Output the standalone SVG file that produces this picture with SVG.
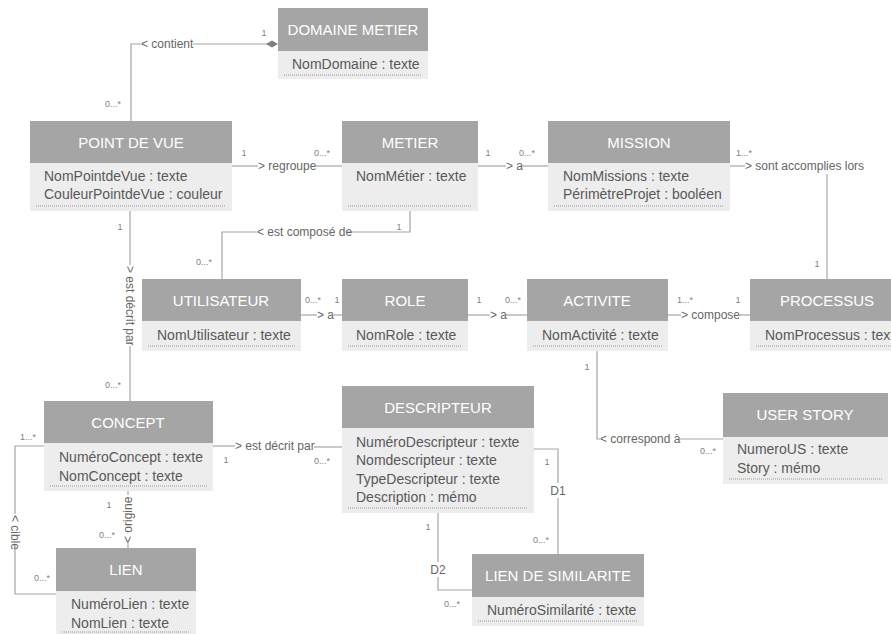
<svg xmlns="http://www.w3.org/2000/svg" width="891" height="634" viewBox="0 0 891 634">
<style>
.hd{fill:#a5a5a5}
.bd{fill:#ededed}
.tt{font-family:"Liberation Sans",Arial,sans-serif;font-size:15px;fill:#ffffff;text-anchor:middle}
.at{font-family:"Liberation Sans",Arial,sans-serif;font-size:14px;fill:#595959}
.dl{stroke:#9a9a9a;stroke-width:1;stroke-dasharray:1 1;fill:none}
.cn{stroke:#a6a6a6;stroke-width:1.2;fill:none}
.lb{font-family:"Liberation Sans",Arial,sans-serif;font-size:12px;fill:#666666}
.ml{font-family:"Liberation Sans",Arial,sans-serif;font-size:9px;fill:#7f7f7f;text-anchor:middle}
</style>
<rect width="891" height="634" fill="#ffffff"/>
<g id="connectors">
  <!-- contient -->
  <path class="cn" d="M268,44 H193"/>
  <polygon points="266,44 272,40.5 278,44 272,47.5" fill="#7f7f7f"/>
  <text class="lb" x="141" y="48">&lt; contient</text>
  <path class="cn" d="M141,44 H131 V121"/>
  <text class="ml" x="264" y="36">1</text>
  <text class="ml" x="113" y="107">0...*</text>
  <!-- regroupe -->
  <path class="cn" d="M232,166 H258"/>
  <text class="lb" x="258" y="170">&gt; regroupe</text>
  <path class="cn" d="M315,166 H342"/>
  <text class="ml" x="244" y="156">1</text>
  <text class="ml" x="322" y="156">0...*</text>
  <!-- a metier-mission -->
  <path class="cn" d="M478,166 H506"/>
  <text class="lb" x="506" y="170">&gt; a</text>
  <path class="cn" d="M522,166 H548"/>
  <text class="ml" x="488" y="156">1</text>
  <text class="ml" x="527" y="156">0...*</text>
  <!-- sont accomplies lors -->
  <path class="cn" d="M730,166 H745"/>
  <text class="lb" x="745" y="170">&gt; sont accomplies lors</text>
  <path class="cn" d="M827,174 V279"/>
  <text class="ml" x="744" y="156">1...*</text>
  <text class="ml" x="817" y="267">1</text>
  <!-- est composé de -->
  <path class="cn" d="M410,211 V232 H346"/>
  <text class="lb" x="257" y="236">&lt; est composé de</text>
  <path class="cn" d="M257,232 H222 V279"/>
  <text class="ml" x="399" y="230">1</text>
  <text class="ml" x="204" y="265">0...*</text>
  <!-- est décrit par vertical -->
  <path class="cn" d="M130,211 V265"/>
  <text class="lb" transform="translate(130,266) rotate(90)" x="0" y="4">&gt; est décrit par</text>
  <path class="cn" d="M130,346 V401"/>
  <text class="ml" x="120" y="230">1</text>
  <text class="ml" x="113" y="388">0...*</text>
  <!-- a util-role -->
  <path class="cn" d="M301,315 H317"/>
  <text class="lb" x="317" y="319">&gt; a</text>
  <path class="cn" d="M331,315 H342"/>
  <text class="ml" x="313" y="303">0...*</text>
  <text class="ml" x="337" y="303">1</text>
  <!-- a role-activite -->
  <path class="cn" d="M468,315 H490"/>
  <text class="lb" x="490" y="319">&gt; a</text>
  <path class="cn" d="M504,315 H527"/>
  <text class="ml" x="479" y="303">1</text>
  <text class="ml" x="513" y="303">0...*</text>
  <!-- compose -->
  <path class="cn" d="M668,315 H681"/>
  <text class="lb" x="681" y="319">&gt; compose</text>
  <path class="cn" d="M738,315 H750"/>
  <text class="ml" x="685" y="303">1...*</text>
  <text class="ml" x="738" y="303">1</text>
  <!-- correspond à -->
  <path class="cn" d="M597,351 V439 H600"/>
  <text class="lb" x="600" y="443">&lt; correspond à</text>
  <path class="cn" d="M679,439 H723"/>
  <text class="ml" x="587" y="370">1</text>
  <text class="ml" x="708" y="454">0...*</text>
  <!-- est décrit par concept-descripteur -->
  <path class="cn" d="M213,446 H235"/>
  <text class="lb" x="235" y="450">&gt; est décrit par</text>
  <path class="cn" d="M314,447 H342"/>
  <text class="ml" x="226" y="463">1</text>
  <text class="ml" x="322" y="464">0...*</text>
  <!-- cible -->
  <path class="cn" d="M44,446 H15 V514"/>
  <text class="lb" transform="translate(15,515) rotate(90)" x="0" y="4">&lt; cible</text>
  <path class="cn" d="M15,546 V594 H56"/>
  <text class="ml" x="28" y="440">1...*</text>
  <text class="ml" x="42" y="581">0...*</text>
  <!-- origine -->
  <path class="cn" d="M128,491 V495"/>
  <text class="lb" transform="translate(128,543) rotate(-90)" x="0" y="4">&lt; origine</text>
  <path class="cn" d="M128,543 V548"/>
  <text class="ml" x="109" y="508">1</text>
  <text class="ml" x="107" y="538">0...*</text>
  <!-- D1 -->
  <path class="cn" d="M534,449 H558 V483"/>
  <text class="lb" x="558" y="495" text-anchor="middle">D1</text>
  <path class="cn" d="M558,498 V554"/>
  <text class="ml" x="547" y="465">1</text>
  <text class="ml" x="541" y="543">0...*</text>
  <!-- D2 -->
  <path class="cn" d="M438,513 V562"/>
  <text class="lb" x="438" y="574" text-anchor="middle">D2</text>
  <path class="cn" d="M438,577 V590 H472"/>
  <text class="ml" x="428" y="530">1</text>
  <text class="ml" x="452" y="607">0...*</text>
</g>
<g id="domaine-metier">
  <rect class="hd" x="278" y="8" width="150" height="43"/>
  <rect class="bd" x="278" y="51" width="150" height="28"/>
  <text class="tt" x="353" y="35">DOMAINE METIER</text>
  <text class="at" x="292" y="69">NomDomaine : texte</text>
  <line class="dl" x1="284" y1="75" x2="422" y2="75"/>
</g>
<g id="point-de-vue">
  <rect class="hd" x="30" y="121" width="202" height="42"/>
  <rect class="bd" x="30" y="163" width="202" height="48"/>
  <text class="tt" x="131" y="148">POINT DE VUE</text>
  <text class="at" x="44" y="181">NomPointdeVue : texte</text>
  <text class="at" x="44" y="199">CouleurPointdeVue : couleur</text>
  <line class="dl" x1="36" y1="206" x2="226" y2="206"/>
</g>
<g id="metier">
  <rect class="hd" x="342" y="121" width="136" height="42"/>
  <rect class="bd" x="342" y="163" width="136" height="48"/>
  <text class="tt" x="410" y="148">METIER</text>
  <text class="at" x="356" y="181">NomMétier : texte</text>
  <line class="dl" x1="348" y1="206" x2="472" y2="206"/>
</g>
<g id="mission">
  <rect class="hd" x="548" y="121" width="182" height="42"/>
  <rect class="bd" x="548" y="163" width="182" height="48"/>
  <text class="tt" x="639" y="148">MISSION</text>
  <text class="at" x="563" y="181">NomMissions : texte</text>
  <text class="at" x="563" y="199">PérimètreProjet : booléen</text>
  <line class="dl" x1="554" y1="206" x2="724" y2="206"/>
</g>
<g id="utilisateur">
  <rect class="hd" x="142" y="279" width="159" height="42"/>
  <rect class="bd" x="142" y="321" width="159" height="30"/>
  <text class="tt" x="221" y="306">UTILISATEUR</text>
  <text class="at" x="157" y="340">NomUtilisateur : texte</text>
  <line class="dl" x1="148" y1="346" x2="295" y2="346"/>
</g>
<g id="role">
  <rect class="hd" x="342" y="279" width="126" height="42"/>
  <rect class="bd" x="342" y="321" width="126" height="30"/>
  <text class="tt" x="405" y="306">ROLE</text>
  <text class="at" x="356" y="340">NomRole : texte</text>
  <line class="dl" x1="348" y1="346" x2="462" y2="346"/>
</g>
<g id="activite">
  <rect class="hd" x="527" y="279" width="141" height="42"/>
  <rect class="bd" x="527" y="321" width="141" height="30"/>
  <text class="tt" x="597" y="306">ACTIVITE</text>
  <text class="at" x="542" y="340">NomActivité : texte</text>
  <line class="dl" x1="533" y1="346" x2="662" y2="346"/>
</g>
<g id="processus">
  <rect class="hd" x="750" y="279" width="154" height="42"/>
  <rect class="bd" x="750" y="321" width="154" height="30"/>
  <text class="tt" x="827" y="306">PROCESSUS</text>
  <text class="at" x="765" y="340">NomProcessus : texte</text>
  <line class="dl" x1="756" y1="346" x2="898" y2="346"/>
</g>
<g id="concept">
  <rect class="hd" x="44" y="401" width="169" height="42"/>
  <rect class="bd" x="44" y="443" width="169" height="48"/>
  <text class="tt" x="128" y="428">CONCEPT</text>
  <text class="at" x="59" y="462">NuméroConcept : texte</text>
  <text class="at" x="59" y="481">NomConcept : texte</text>
  <line class="dl" x1="50" y1="486" x2="207" y2="486"/>
</g>
<g id="descripteur">
  <rect class="hd" x="342" y="386" width="192" height="42"/>
  <rect class="bd" x="342" y="428" width="192" height="85"/>
  <text class="tt" x="438" y="413">DESCRIPTEUR</text>
  <text class="at" x="356" y="447">NuméroDescripteur : texte</text>
  <text class="at" x="356" y="465">Nomdescripteur : texte</text>
  <text class="at" x="356" y="484">TypeDescripteur : texte</text>
  <text class="at" x="356" y="502">Description : mémo</text>
  <line class="dl" x1="348" y1="508" x2="528" y2="508"/>
</g>
<g id="user-story">
  <rect class="hd" x="723" y="393" width="165" height="44"/>
  <rect class="bd" x="723" y="437" width="165" height="47"/>
  <text class="tt" x="805" y="420">USER STORY</text>
  <text class="at" x="737" y="454">NumeroUS : texte</text>
  <text class="at" x="737" y="473">Story : mémo</text>
  <line class="dl" x1="729" y1="479" x2="882" y2="479"/>
</g>
<g id="lien">
  <rect class="hd" x="56" y="548" width="140" height="43"/>
  <rect class="bd" x="56" y="591" width="140" height="45"/>
  <text class="tt" x="126" y="575">LIEN</text>
  <text class="at" x="71" y="609">NuméroLien : texte</text>
  <text class="at" x="71" y="628">NomLien : texte</text>
  <line class="dl" x1="62" y1="632" x2="190" y2="632"/>
</g>
<g id="lien-de-similarite">
  <rect class="hd" x="472" y="554" width="172" height="43"/>
  <rect class="bd" x="472" y="597" width="172" height="29"/>
  <text class="tt" x="558" y="581">LIEN DE SIMILARITE</text>
  <text class="at" x="487" y="615">NuméroSimilarité : texte</text>
  <line class="dl" x1="478" y1="621" x2="638" y2="621"/>
</g>
</svg>
